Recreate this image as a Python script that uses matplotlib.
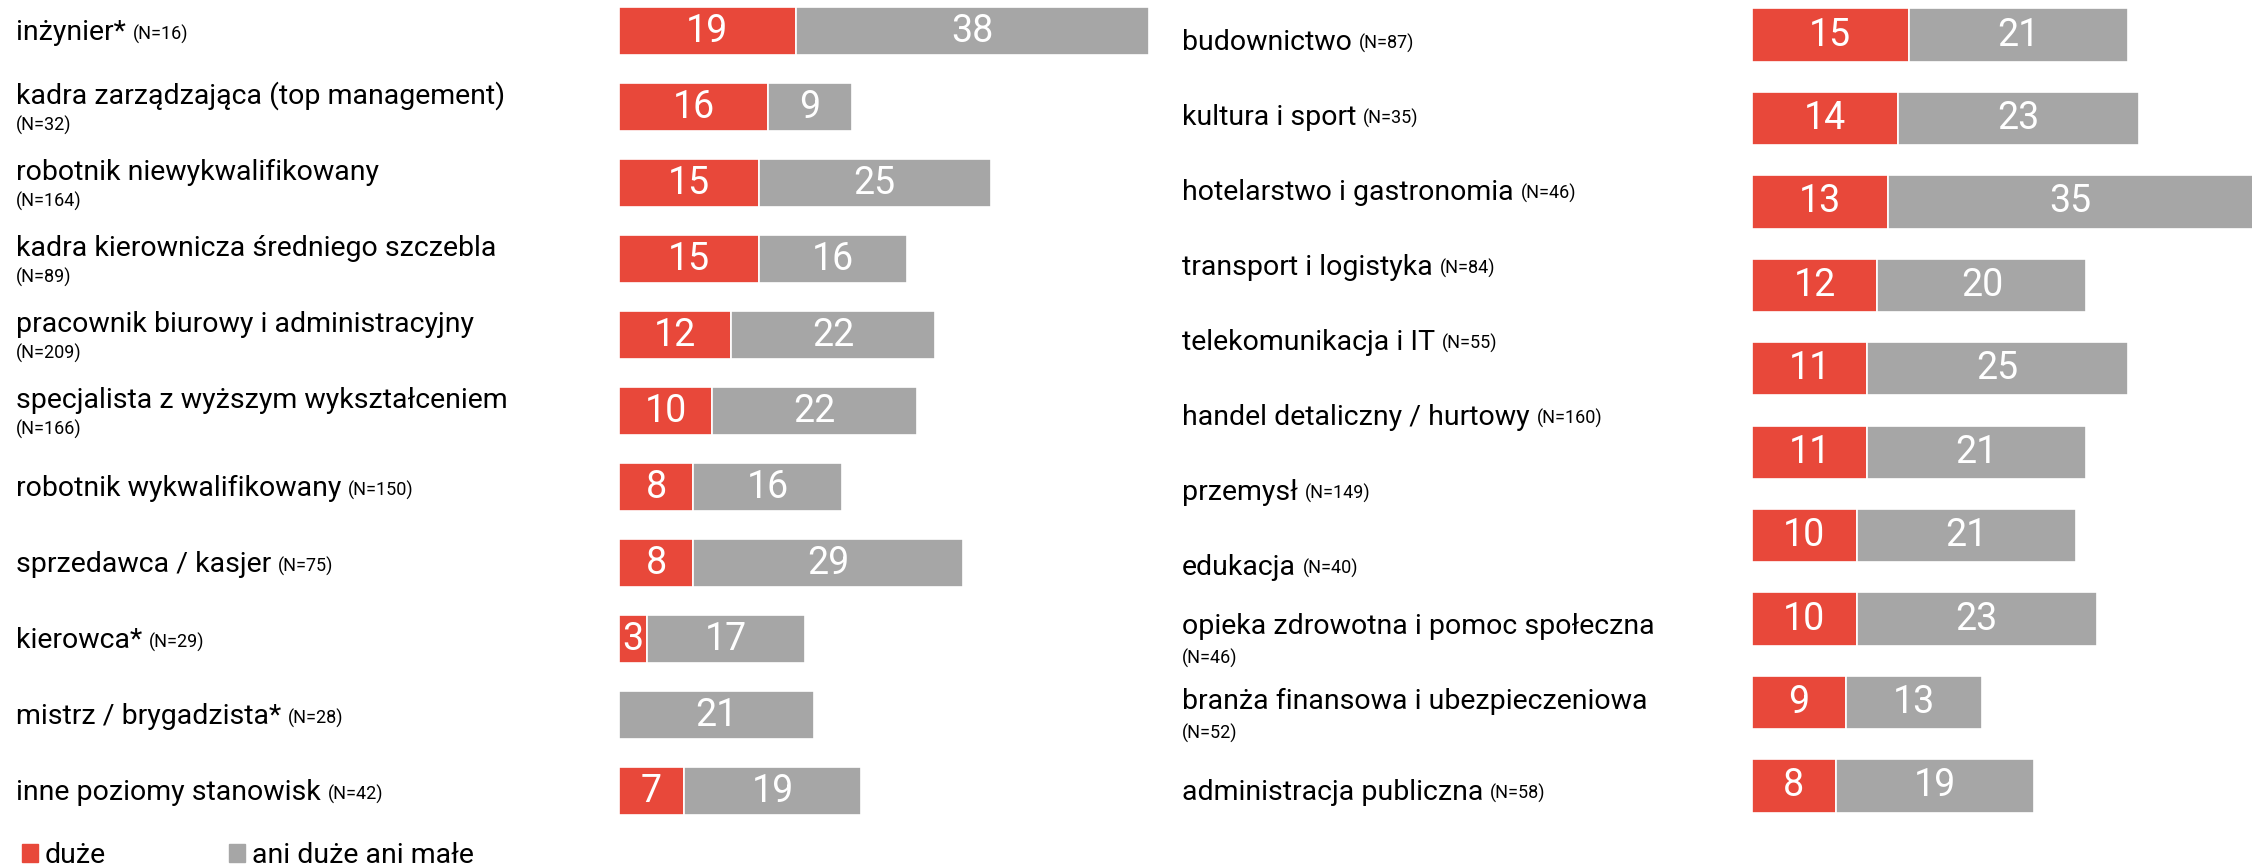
import matplotlib
matplotlib.use("Agg")
import matplotlib.pyplot as plt
from matplotlib.transforms import blended_transform_factory
from matplotlib.patches import Patch

plt.rcParams['font.family'] = ['Roboto', 'DejaVu Sans']

# left panel: position level
left_cats = ["inżynier*", "kadra zarządzająca (top management)", "robotnik niewykwalifikowany",
             "kadra kierownicza średniego szczebla", "pracownik biurowy i administracyjny",
             "specjalista z wyższym wykształceniem", "robotnik wykwalifikowany",
             "sprzedawca / kasjer", "kierowca*", "mistrz / brygadzista*", "inne poziomy stanowisk"]
left_n = [16, 32, 164, 89, 209, 166, 150, 75, 29, 28, 42]
left_wrap = [False, True, True, True, True, True, False, False, False, False, False]
left_big = [19, 16, 15, 15, 12, 10, 8, 8, 3, 0, 7]
left_mid = [38, 9, 25, 16, 22, 22, 16, 29, 17, 21, 19]

# right panel: industry
right_cats = ["budownictwo", "kultura i sport", "hotelarstwo i gastronomia", "transport i logistyka",
              "telekomunikacja i IT", "handel detaliczny / hurtowy", "przemysł", "edukacja",
              "opieka zdrowotna i pomoc społeczna", "branża finansowa i ubezpieczeniowa",
              "administracja publiczna"]
right_n = [87, 35, 46, 84, 55, 160, 149, 40, 46, 52, 58]
right_wrap = [False, False, False, False, False, False, False, False, True, True, False]
right_big = [15, 14, 13, 12, 11, 11, 10, 10, 9, 8]
right_mid = [21, 23, 35, 20, 25, 21, 21, 23, 13, 19]

series = ["duże", "ani duże ani małe"]
RED = "#E8483A"
GRAY = "#A6A6A6"
LABEL_FS = 20.5
N_FS = 13

W, H = 2252, 867
fig = plt.figure(figsize=(W / 100, H / 100), dpi=100)


def px_axes(x0, x1, ytop, ybot):
    return fig.add_axes([x0 / W, (H - ybot) / H, (x1 - x0) / W, (ybot - ytop) / H])


def draw_bars(ax, big, mid, height):
    y = list(range(len(big)))
    b1 = ax.barh(y, big, height=height, color=RED, edgecolor="white", linewidth=1.2)
    b2 = ax.barh(y, mid, left=big, height=height, color=GRAY, edgecolor="white", linewidth=1.2)
    ax.bar_label(b1, labels=[str(v) if v else "" for v in big], label_type="center",
                 color="white", fontsize=27)
    ax.bar_label(b2, labels=[str(v) for v in mid], label_type="center",
                 color="white", fontsize=27)
    ax.set_ylim(len(big) - 0.5, -0.42)
    ax.axis("off")


def draw_labels(ax, x_px, cats, ns, wrap, step_px, shift):
    # shift = (single line, first line, second line) offsets in pixels
    tr = blended_transform_factory(fig.transFigure, ax.transData)
    x = x_px / W
    for i, (c, n, w) in enumerate(zip(cats, ns, wrap)):
        if w:
            ax.text(x, i + shift[1] / step_px, c, transform=tr, fontsize=LABEL_FS, va="center", ha="left")
            ax.text(x, i + shift[2] / step_px, f"(N={n})", transform=tr, fontsize=N_FS, va="center", ha="left")
        else:
            t = ax.text(x, i + shift[0] / step_px, c, transform=tr, fontsize=LABEL_FS, va="center", ha="left")
            ax.annotate(f"(N={n})", xy=(1, 0), xycoords=t, xytext=(5, 1.5), textcoords="offset points",
                        fontsize=N_FS, va="bottom", ha="left")


# left bars: start at x=619 px, 9.3 px per point
axl = px_axes(619, 1169, 31 - 0.42 * 76, 791 + 38)
axl.set_xlim(0, 550 / 9.3)
draw_bars(axl, left_big, left_mid, 0.64)
draw_labels(axl, 16, left_cats, left_n, left_wrap, 76, (1.5, -11, 18))

# right bars: start at x=1752 px, 10.45 px per point
axr = px_axes(1752, 2252, 35 - 0.42 * 83.4, 786 + 41.7)
axr.set_xlim(0, 500 / 10.45)
draw_bars(axr, right_big, right_mid, 0.64)

# right labels on their own row grid
axrl = px_axes(1160, 1700, 42 - 0.42 * 75, 792 + 37.5)
axrl.set_ylim(len(right_cats) - 0.5, -0.42)
axrl.axis("off")
draw_labels(axrl, 1182, right_cats, right_n, right_wrap, 75, (0, -16, 16))

handles = [Patch(color=RED), Patch(color=GRAY)]
fig.legend(handles, series, loc="lower left", bbox_to_anchor=(22 / W, -2 / H), ncol=2,
           frameon=False, fontsize=LABEL_FS, handlelength=0.56, handleheight=0.55, handletextpad=0.25,
           columnspacing=4.3, borderpad=0, borderaxespad=0)

fig.savefig("out.png", dpi=100)
